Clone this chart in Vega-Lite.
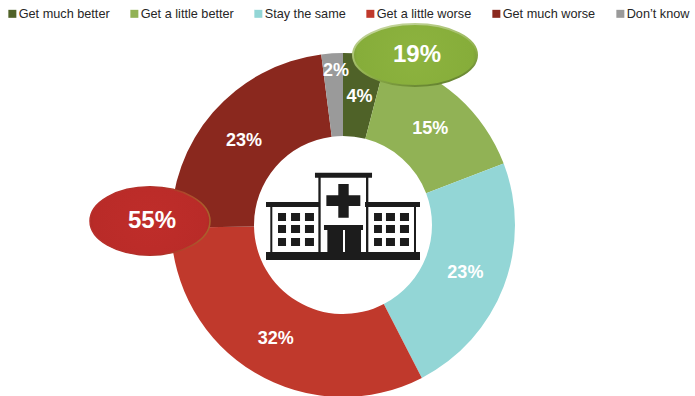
{
  "$schema": "https://vega.github.io/schema/vega-lite/v6.json",
  "width": 686,
  "height": 342,
  "autosize": "none",
  "padding": {"left": 0, "right": 9, "top": 54, "bottom": 0},
  "background": "white",
  "config": {"view": {"stroke": null}, "font": "Liberation Sans"},
  "datasets": {
    "answers": [
      {"answer": "Get much better", "share": 0.04, "rank": 1},
      {"answer": "Get a little better", "share": 0.15, "rank": 2},
      {"answer": "Stay the same", "share": 0.23, "rank": 3},
      {"answer": "Get a little worse", "share": 0.32, "rank": 4},
      {"answer": "Get much worse", "share": 0.23, "rank": 5},
      {"answer": "Don’t know", "share": 0.02, "rank": 6}
    ],
    "totals": [
      {"group": "Better", "total": 0.19},
      {"group": "Worse", "total": 0.55}
    ]
  },
  "data": {"name": "answers"},
  "layer": [
    {
      "mark": {"type": "arc", "outerRadius": 172, "innerRadius": 89},
      "encoding": {
        "theta": {"field": "share", "type": "quantitative", "stack": true},
        "order": {"field": "rank", "type": "ordinal"},
        "color": {
          "field": "answer",
          "type": "nominal",
          "scale": {
            "domain": ["Get much better", "Get a little better", "Stay the same", "Get a little worse", "Get much worse", "Don’t know"],
            "range": ["#4f6228", "#91b255", "#93d6d6", "#c0392c", "#8a281e", "#9a9a9a"]
          },
          "legend": {
            "title": null,
            "orient": "none",
            "legendX": 6,
            "legendY": -47,
            "direction": "horizontal",
            "columns": 6,
            "columnPadding": 18,
            "gridAlign": "each",
            "symbolType": "square",
            "symbolSize": 64,
            "symbolStrokeWidth": 0,
            "labelFont": "Liberation Sans",
            "labelFontSize": 12.7,
            "labelColor": "#262626",
            "labelOffset": 0
          }
        }
      }
    },
    {
      "data": {"name": "totals"},
      "transform": [{"filter": "datum.group === 'Better'"}],
      "mark": {
        "type": "point",
        "filled": true,
        "opacity": 1,
        "size": 15376,
        "shape": "M-1,0A1,0.5,0,1,1,1,0A1,0.5,0,1,1,-1,0Z",
        "stroke": {
          "gradient": "linear", "x1": 0.3, "y1": 0, "x2": 0.8, "y2": 1,
          "stops": [{"offset": 0, "color": "#c3d49b"}, {"offset": 0.6, "color": "#8fb04a"}, {"offset": 1, "color": "#5f7d2c"}]
        },
        "strokeWidth": 2,
        "fill": {
          "gradient": "radial", "x1": 0.5, "y1": 0.5, "x2": 0.5, "y2": 0.5, "r1": 0, "r2": 0.55,
          "stops": [{"offset": 0, "color": "#8db33f"}, {"offset": 0.85, "color": "#86ad3a"}, {"offset": 1, "color": "#6f8f35"}]
        }
      },
      "encoding": {
        "x": {"field": "group", "type": "nominal", "axis": null, "scale": {"type": "point", "padding": 0, "domain": ["Better", "Worse"], "range": [415, 150]}},
        "y": {"field": "group", "type": "nominal", "axis": null, "scale": {"type": "point", "padding": 0, "domain": ["Better", "Worse"], "range": [1, 167]}}
      }
    },
    {
      "data": {"name": "totals"},
      "transform": [{"filter": "datum.group === 'Worse'"}],
      "mark": {
        "type": "point",
        "filled": true,
        "opacity": 1,
        "size": 14400,
        "shape": "M-1,0A1,0.57,0,1,1,1,0A1,0.57,0,1,1,-1,0Z",
        "stroke": {
          "gradient": "linear", "x1": 0, "y1": 0, "x2": 1, "y2": 0,
          "stops": [{"offset": 0, "color": "#b92f2b"}, {"offset": 0.6, "color": "#b03028"}, {"offset": 1, "color": "#a8642c"}]
        },
        "strokeWidth": 1.5,
        "fill": {
          "gradient": "radial", "x1": 0.5, "y1": 0.5, "x2": 0.5, "y2": 0.5, "r1": 0, "r2": 0.55,
          "stops": [{"offset": 0, "color": "#bf2d2a"}, {"offset": 0.85, "color": "#b92b28"}, {"offset": 1, "color": "#a32a22"}]
        }
      },
      "encoding": {
        "x": {"field": "group", "type": "nominal", "axis": null, "scale": {"type": "point", "padding": 0, "domain": ["Better", "Worse"], "range": [415, 150]}},
        "y": {"field": "group", "type": "nominal", "axis": null, "scale": {"type": "point", "padding": 0, "domain": ["Better", "Worse"], "range": [1, 167]}}
      }
    },
    {
      "data": {"values": [{"icon": "hospital"}]},
      "mark": {
        "type": "point",
        "filled": true,
        "opacity": 1,
        "size": 23716,
        "color": "#1c1c1c",
        "shape": "M-1,0.351H1V0.455H-1ZM-1,-0.299H-0.29V-0.234H-1ZM0.286,-0.299H1V-0.234H0.286ZM-0.364,-0.68H0.377V-0.615H-0.364ZM-0.944,-0.234H-0.918V0.351H-0.944ZM-0.32,-0.615H-0.29V0.351H-0.32ZM0.299,-0.615H0.329V0.351H0.299ZM0.922,-0.234H0.948V0.351H0.922ZM-0.061,-0.532H0.074V-0.385H0.225V-0.247H0.074V-0.095H-0.061V-0.247H-0.216V-0.385H-0.061ZM-0.247,0H0.26V0.065H-0.247ZM-0.203,0.065H0V0.351H-0.203ZM0.026,0.065H0.234V0.351H0.026ZM-0.844,-0.156H-0.74V-0.052H-0.844ZM-0.675,-0.156H-0.558V-0.052H-0.675ZM-0.494,-0.156H-0.377V-0.052H-0.494ZM-0.844,0H-0.74V0.104H-0.844ZM-0.675,0H-0.558V0.104H-0.675ZM-0.494,0H-0.377V0.104H-0.494ZM-0.844,0.169H-0.74V0.273H-0.844ZM-0.675,0.169H-0.558V0.273H-0.675ZM-0.494,0.169H-0.377V0.273H-0.494ZM0.403,-0.156H0.506V-0.052H0.403ZM0.558,-0.156H0.675V-0.052H0.558ZM0.74,-0.156H0.857V-0.052H0.74ZM0.403,0H0.506V0.104H0.403ZM0.558,0H0.675V0.104H0.558ZM0.74,0H0.857V0.104H0.74ZM0.403,0.169H0.506V0.273H0.403ZM0.558,0.169H0.675V0.273H0.558ZM0.74,0.169H0.857V0.273H0.74Z"
      },
      "encoding": {}
    },
    {
      "mark": {"type": "text", "font": "Liberation Sans", "fontWeight": "bold", "fontSize": 18, "color": "white", "radius": 131, "dy": 1.5},
      "encoding": {
        "theta": {"field": "share", "type": "quantitative", "stack": true},
        "order": {"field": "rank", "type": "ordinal"},
        "detail": {"field": "answer", "type": "nominal"},
        "text": {
          "condition": {"test": "datum.rank !== 6", "field": "share", "type": "quantitative", "format": ".0%"},
          "value": ""
        }
      }
    },
    {
      "mark": {"type": "text", "font": "Liberation Sans", "fontWeight": "bold", "fontSize": 18, "color": "white", "radius": 156, "dx": 3, "dy": 2},
      "encoding": {
        "theta": {"field": "share", "type": "quantitative", "stack": true},
        "order": {"field": "rank", "type": "ordinal"},
        "detail": {"field": "answer", "type": "nominal"},
        "text": {
          "condition": {"test": "datum.rank === 6", "field": "share", "type": "quantitative", "format": ".0%"},
          "value": ""
        }
      }
    },
    {
      "data": {"name": "totals"},
      "mark": {"type": "text", "font": "Liberation Sans", "fontWeight": "bold", "fontSize": 24, "color": "white", "dx": 2},
      "encoding": {
        "x": {"field": "group", "type": "nominal", "axis": null, "scale": {"type": "point", "padding": 0, "domain": ["Better", "Worse"], "range": [415, 150]}},
        "y": {"field": "group", "type": "nominal", "axis": null, "scale": {"type": "point", "padding": 0, "domain": ["Better", "Worse"], "range": [1, 167]}},
        "text": {"field": "total", "type": "quantitative", "format": ".0%"}
      }
    }
  ]
}
